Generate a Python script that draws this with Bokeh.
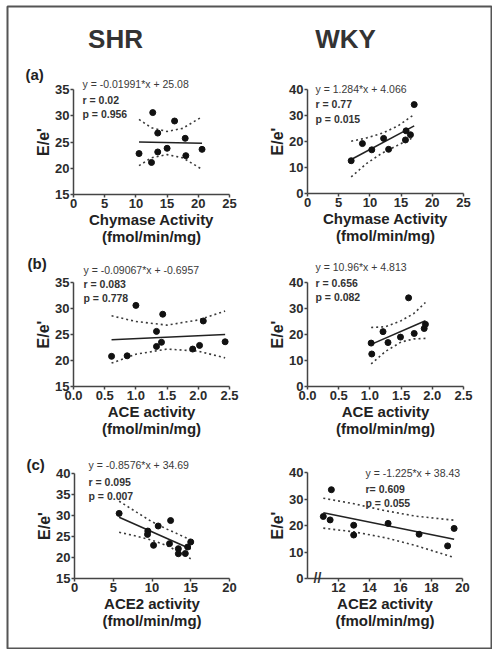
from bokeh.plotting import figure
from bokeh.models import (Range1d, FixedTicker, PrintfTickFormatter, Label, LinearAxis)
from bokeh.embed import file_html
from bokeh.resources import INLINE

# ---------------- data ----------------
groups = ["SHR", "WKY"]
panel_tags = ["(a)", "(b)", "(c)"]
x_labels = ["Chymase Activity\n(fmol/min/mg)", "ACE activity\n(fmol/min/mg)", "ACE2 activity\n(fmol/min/mg)"]
y_label = "E/e'"

# (a) Chymase
shr_a_x = [10.5, 12.5, 12.7, 13.5, 13.5, 15.0, 16.2, 17.9, 18.0, 20.6]
shr_a_y = [22.8, 21.1, 30.6, 26.7, 23.1, 23.8, 29.0, 25.7, 22.4, 23.6]
shr_a_fit_x = [10.5, 20.6]
shr_a_fit_y = [25.0, 24.75]
shr_a_band_x = [10.5, 12.5, 15.0, 17.5, 20.6]
shr_a_upper = [29.3, 27.7, 27.0, 27.6, 29.8]
shr_a_lower = [20.5, 22.0, 22.6, 22.0, 19.8]
shr_a_stats = ["y = -0.01991*x + 25.08", "r =  0.02", "p = 0.956"]

wky_a_x = [7.0, 8.8, 10.3, 12.2, 13.0, 15.7, 15.8, 16.5, 17.1]
wky_a_y = [12.6, 19.2, 16.8, 21.2, 17.0, 20.6, 24.1, 22.6, 34.2]
wky_a_fit_x = [7.0, 17.1]
wky_a_fit_y = [13.1, 26.0]
wky_a_band_x = [7.0, 9.5, 12.0, 14.5, 17.1]
wky_a_upper = [20.1, 21.4, 23.2, 26.0, 30.4]
wky_a_lower = [6.4, 11.6, 15.6, 18.6, 21.7]
wky_a_stats = ["y = 1.284*x + 4.066", "r =  0.77", "p = 0.015"]

# (b) ACE
shr_b_x = [0.61, 0.86, 1.0, 1.33, 1.33, 1.41, 1.43, 1.91, 2.02, 2.08, 2.43]
shr_b_y = [20.8, 20.9, 30.6, 25.6, 22.7, 23.5, 28.9, 22.2, 22.9, 27.6, 23.6]
shr_b_fit_x = [0.61, 2.43]
shr_b_fit_y = [24.0, 25.0]
shr_b_band_x = [0.61, 1.0, 1.5, 2.0, 2.43]
shr_b_upper = [28.6, 27.5, 26.8, 27.8, 29.5]
shr_b_lower = [19.5, 21.2, 22.2, 21.8, 20.5]
shr_b_stats = ["y = -0.09067*x + -0.6957", "r = 0.083", "p = 0.778"]

wky_b_x = [1.02, 1.03, 1.21, 1.29, 1.49, 1.62, 1.71, 1.87, 1.89]
wky_b_y = [16.7, 12.5, 21.1, 16.9, 19.0, 34.1, 20.4, 22.3, 23.9]
wky_b_fit_x = [1.02, 1.89]
wky_b_fit_y = [16.2, 25.3]
wky_b_band_x = [1.02, 1.25, 1.5, 1.7, 1.89]
wky_b_upper = [22.7, 23.0, 25.3, 28.0, 32.3]
wky_b_lower = [8.7, 13.5, 17.1, 18.3, 18.5]
wky_b_stats = ["y = 10.96*x + 4.813", "r = 0.656", "p = 0.082"]

# (c) ACE2
shr_c_x = [5.76, 9.46, 9.42, 10.2, 10.8, 12.26, 12.4, 13.4, 13.4, 14.3, 14.6, 15.0]
shr_c_y = [30.5, 26.3, 25.5, 22.9, 27.5, 23.3, 28.8, 22.1, 20.9, 20.95, 22.5, 23.7]
shr_c_fit_x = [5.76, 15.0]
shr_c_fit_y = [29.6, 22.0]
shr_c_band_x = [5.76, 8.0, 10.0, 12.0, 15.0]
shr_c_upper = [33.4, 30.8, 28.5, 26.7, 24.2]
shr_c_lower = [26.0, 25.1, 24.1, 22.8, 19.7]
shr_c_stats = ["y = -0.8576*x + 34.69", "r = 0.095", "p = 0.007"]

wky_c_x = [11.02, 11.46, 11.54, 12.98, 12.98, 15.2, 17.2, 19.04, 19.46]
wky_c_y = [23.4, 22.1, 33.5, 20.1, 16.4, 20.8, 16.7, 12.3, 18.9]
wky_c_fit_x = [11.02, 19.46]
wky_c_fit_y = [24.8, 14.8]
wky_c_band_x = [11.02, 13.0, 15.0, 17.0, 19.46]
wky_c_upper = [30.3, 28.2, 25.6, 23.5, 22.0]
wky_c_lower = [19.0, 17.6, 15.4, 12.4, 7.9]
wky_c_stats = ["y = -1.225*x + 38.43", "r= 0.609", "p = 0.055"]

# ---------------- layout / style ----------------
FONT = "Liberation Sans"
INK = "#2b2b2b"
# page-pixel extent of the plotting frame (drawn with the outer border)
PX0, PX1, PY0, PY1 = 7, 491, 6, 648

p = figure(width=492, height=649, output_backend="svg", toolbar_location=None,
           x_range=Range1d(PX0, PX1), y_range=Range1d(PY1, PY0),
           x_axis_location=None, y_axis_location=None,
           min_border_left=PX0, min_border_right=492 - PX1,
           min_border_top=PY0, min_border_bottom=649 - PY1)
p.grid.visible = False
p.outline_line_color = "#555555"
p.outline_line_width = 2
p.background_fill_color = "white"
p.border_fill_color = "white"


def panel(name, box, xlim, ylim, xt, yt, xlabel, xfmt=None):
    """box = (left, right, top, bottom) of the plotting area in page pixels"""
    L, R, T, B = box
    kx = (xlim[1] - xlim[0]) / (R - L)
    ky = (ylim[1] - ylim[0]) / (B - T)
    p.extra_x_ranges[name + "x"] = Range1d(xlim[0] - (L - PX0) * kx, xlim[1] + (PX1 - R) * kx)
    p.extra_y_ranges[name + "y"] = Range1d(ylim[0] - (PY1 - B) * ky, ylim[1] + (T - PY0) * ky)
    xa = LinearAxis(x_range_name=name + "x", y_range_name=name + "y", fixed_location=ylim[0],
                    bounds=xlim, ticker=FixedTicker(ticks=xt), axis_label=xlabel)
    ya = LinearAxis(x_range_name=name + "x", y_range_name=name + "y", fixed_location=xlim[0],
                    bounds=ylim, ticker=FixedTicker(ticks=yt), axis_label=y_label)
    if xfmt:
        xa.formatter = PrintfTickFormatter(format=xfmt)
    for ax in (xa, ya):
        ax.axis_line_color = "#444444"
        ax.axis_line_width = 1.5
        ax.major_tick_line_color = "#444444"
        ax.major_tick_line_width = 1.5
        ax.major_tick_out = 3
        ax.major_tick_in = 0
        ax.minor_tick_line_color = None
        ax.major_label_text_font = FONT
        ax.major_label_text_font_style = "bold"
        ax.major_label_text_font_size = "13px"
        ax.major_label_text_color = INK
        ax.major_label_standoff = 1
        ax.axis_label_text_font = FONT
        ax.axis_label_text_font_style = "bold"
        ax.axis_label_text_color = "#222222"
        ax.axis_label_standoff = 0
    xa.axis_label_text_font_size = "15px"
    xa.axis_label_text_line_height = 1.0
    ya.axis_label_text_font_size = "16px"
    p.add_layout(xa, "below")
    p.add_layout(ya, "left")
    return name + "x", name + "y"


def add_data(rn, x, y, fx, fy, bx, up, lo):
    xr, yr = rn
    kw = dict(x_range_name=xr, y_range_name=yr)
    p.line(bx, up, line_dash="2 3", line_width=1.6, line_color="#3a3a3a", **kw)
    p.line(bx, lo, line_dash="2 3", line_width=1.6, line_color="#3a3a3a", **kw)
    p.line(fx, fy, line_width=1.6, line_color="#222222", **kw)
    p.scatter(x, y, size=6, color="#111111", **kw)


def add_text(txt, x, y, size="10.5px", style="normal", align="left", color="#3a3a3a"):
    p.add_layout(Label(x=x, y=y, text=txt, text_font=FONT, text_font_size=size,
                       text_font_style=style, text_align=align, text_baseline="middle",
                       text_color=color))


def add_stats(stats, x, ys):
    add_text(stats[0], x, ys[0])
    add_text(stats[1], x, ys[1], style="bold", color="#333333")
    add_text(stats[2], x, ys[2], style="bold", color="#333333")


# headers
add_text(groups[0], 115, 38, size="26px", style="bold", align="center", color="#333333")
add_text(groups[1], 345, 38, size="26px", style="bold", align="center", color="#333333")
add_text(panel_tags[0], 25, 74, size="15px", style="bold", color="#222222")
add_text(panel_tags[1], 27, 263, size="15px", style="bold", color="#222222")
add_text(panel_tags[2], 26, 464, size="15px", style="bold", color="#222222")

# row (a)
r = panel("a1", (73, 229, 89, 194), (0, 25), (15, 35), [0, 5, 10, 15, 20, 25], [15, 20, 25, 30, 35], x_labels[0])
add_data(r, shr_a_x, shr_a_y, shr_a_fit_x, shr_a_fit_y, shr_a_band_x, shr_a_upper, shr_a_lower)
add_stats(shr_a_stats, 82, (83, 99, 113))

r = panel("a2", (307, 463, 89, 193), (0, 25), (0, 40), [0, 5, 10, 15, 20, 25], [0, 10, 20, 30, 40], x_labels[0])
add_data(r, wky_a_x, wky_a_y, wky_a_fit_x, wky_a_fit_y, wky_a_band_x, wky_a_upper, wky_a_lower)
add_stats(wky_a_stats, 315, (88, 103, 118))

# row (b)
r = panel("b1", (73, 229, 282, 386), (0, 2.5), (15, 35), [0, 0.5, 1.0, 1.5, 2.0, 2.5], [15, 20, 25, 30, 35], x_labels[1], "%.1f")
add_data(r, shr_b_x, shr_b_y, shr_b_fit_x, shr_b_fit_y, shr_b_band_x, shr_b_upper, shr_b_lower)
add_stats(shr_b_stats, 83, (269, 283, 297))

r = panel("b2", (307, 463, 282, 386), (0, 2.5), (0, 40), [0, 0.5, 1.0, 1.5, 2.0, 2.5], [0, 10, 20, 30, 40], x_labels[1], "%.1f")
add_data(r, wky_b_x, wky_b_y, wky_b_fit_x, wky_b_fit_y, wky_b_band_x, wky_b_upper, wky_b_lower)
add_stats(wky_b_stats, 315, (266, 282, 296))

# row (c)
r = panel("c1", (74, 229, 473, 578), (0, 20), (15, 40), [0, 5, 10, 15, 20], [15, 20, 25, 30, 35, 40], x_labels[2])
add_data(r, shr_c_x, shr_c_y, shr_c_fit_x, shr_c_fit_y, shr_c_band_x, shr_c_upper, shr_c_lower)
add_stats(shr_c_stats, 88, (464, 481, 495))

r = panel("c2", (307, 462, 472, 578), (10, 20), (0, 40), [12, 14, 16, 18, 20], [0, 10, 20, 30, 40], x_labels[2])
add_data(r, wky_c_x, wky_c_y, wky_c_fit_x, wky_c_fit_y, wky_c_band_x, wky_c_upper, wky_c_lower)
add_stats(wky_c_stats, 365, (472, 488, 502))
add_text("//", 317, 577, size="14px", style="bold", align="center", color="#333333")

open("out.html", "w").write(file_html(p, INLINE))
